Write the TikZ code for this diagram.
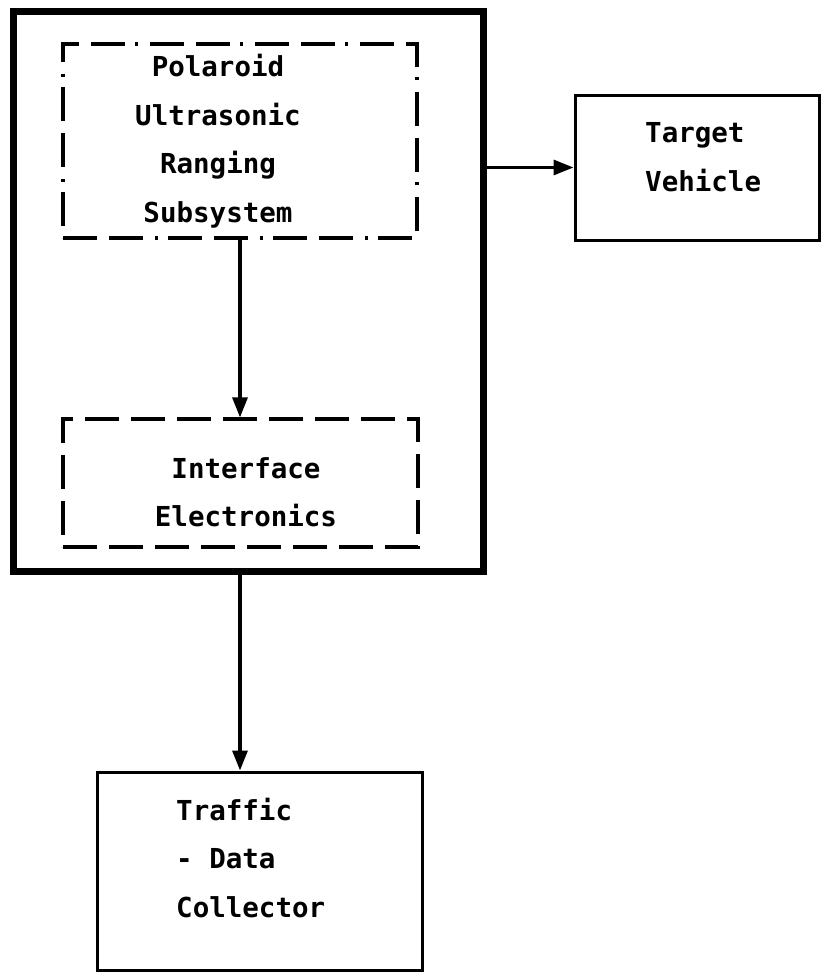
\documentclass[tikz,border=0pt]{standalone}
\usepackage{fontspec}
\setmonofont{DejaVu Sans Mono}
\usetikzlibrary{arrows.meta}

\tikzset{
  outerbox/.style={draw, line width=7pt, inner sep=0pt},
  dashbox/.style={draw, line width=3.2pt, inner sep=0pt, dash pattern=on 34pt off 12pt on 34pt off 12pt on 3pt off 10pt},
  plainbox/.style={draw, line width=3pt, inner sep=0pt},
  boxtext/.style={inner sep=0pt, font=\ttfamily\bfseries\fontsize{27.5}{48.5}\selectfont},
  flow/.style={line width=3.2pt, -{Triangle[length=20pt,width=15pt]}}
}

\begin{document}
\begin{tikzpicture}[x=1pt, y=-1pt]
  \useasboundingbox (0,0) rectangle (821,980);
  % boxes
  \node[outerbox, minimum width=470pt, minimum height=560pt] (sys) at (248,291) {};
  \node[dashbox, minimum width=354pt, minimum height=194pt] (urs) at (240,141) {};
  \node[dashbox, dash pattern=on 34pt off 12pt, minimum width=355pt, minimum height=128pt] (ife) at (240.5,483) {};
  \node[plainbox, minimum width=244pt, minimum height=145pt] (tv) at (697,167.5) {};
  \node[plainbox, minimum width=325pt, minimum height=198pt] (tdc) at (259.5,871) {};
  % texts
  \node[boxtext, align=center] (urstext) at (218,141) {Polaroid\\Ultrasonic\\Ranging\\Subsystem};
  \node[boxtext, align=center] (ifetext) at (246,492) {Interface\\Electronics};
  \node[boxtext, align=left, anchor=west] (tvtext) at (645,157) {Target\\Vehicle};
  \node[boxtext, align=left, anchor=west] (tdctext) at (176,858) {Traffic\\- Data\\Collector};
  % connectors
  \draw[flow] (urs.south) -- (urs.south |- ife.north);
  \draw[flow] (sys.east |- tv.west) -- (tv.west);
  \draw[flow] (urs.south |- sys.south) -- (urs.south |- tdc.north);
\end{tikzpicture}
\end{document}
